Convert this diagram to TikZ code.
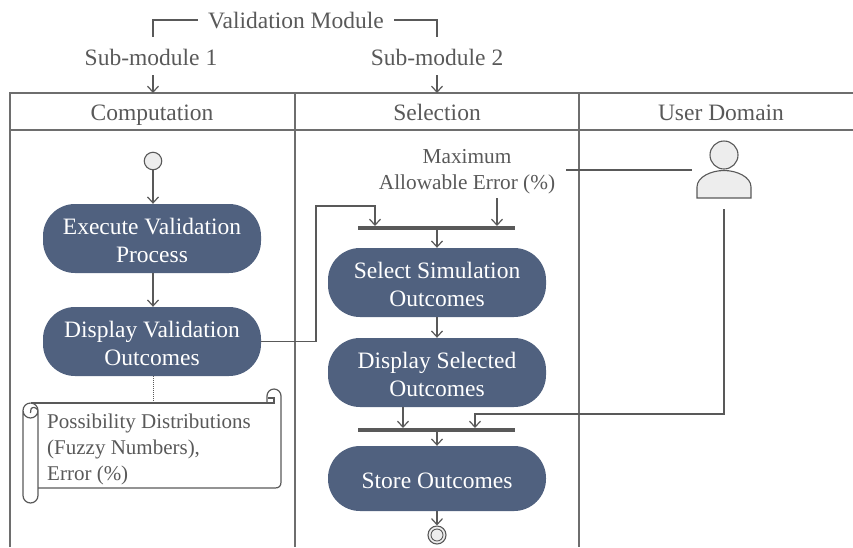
\documentclass[tikz,border=0pt]{standalone}
\usepackage{fontspec}
\setmainfont{Liberation Serif}
\usetikzlibrary{arrows.meta,calc}
\definecolor{ink}{HTML}{595959}
\definecolor{lane}{HTML}{6E6E6E}
\definecolor{act}{HTML}{50617F}
\definecolor{pale}{HTML}{EDEDED}
\tikzset{
  x=1pt,y=-1pt,
  txt/.style={text=ink,font=\fontsize{23.5}{27}\selectfont,inner sep=0pt,anchor=base},
  small/.style={text=ink,font=\fontsize{21}{26}\selectfont,inner sep=0pt,align=left},
  acttext/.style={text=white,font=\fontsize{23.5}{28.5}\selectfont,align=center,inner sep=0pt,yshift=-2pt},
  activity/.style={fill=act,draw=none,rounded corners=32pt,minimum width=218pt,inner sep=0pt},
  forkbar/.style={fill=ink,draw=none,minimum width=157pt,minimum height=4pt,inner sep=0pt},
  flow/.style={draw=ink,line width=1.2pt,-{Straight Barb[length=6pt,width=11pt,line width=1.2pt]}},
  plain/.style={draw=ink,line width=1.2pt},
  lanel/.style={draw=lane,line width=1.4pt},
  pl/.style={draw=ink,line width=1.1pt,fill=pale}
}
\begin{document}
\begin{tikzpicture}
\useasboundingbox (0,0) rectangle (853,547);
% swimlanes
\draw[lanel] (10,547) -- (10,93) -- (853,93);
\draw[lanel] (10,130) -- (853,130);
\draw[lanel] (295,93) -- (295,547);
\draw[lanel] (579,93) -- (579,547);
\node[txt] (hc) at (152,120) {Computation};
\node[txt] (hs) at (437,120) {Selection};
\node[txt] (hu) at (721,120) {User Domain};
% top labels
\node[txt] (vm) at (296,28) {Validation Module};
\node[txt] (s1) at (151,65) {Sub-module 1};
\node[txt] (s2) at (437,65) {Sub-module 2};
\coordinate (lane1) at (153,93);
\coordinate (lane2) at (437,93);
\coordinate (s1top) at (153,36.5);
\coordinate (s2top) at (437,36.5);
\coordinate (s1bot) at (153,75);
\coordinate (s2bot) at (437,75);
\coordinate (vmleft) at (198,20);
\coordinate (vmright) at (394,20);
\draw[plain] (s1top) |- (vmleft);
\draw[plain] (s2top) |- (vmright);
\draw[flow] (s1bot) -- (lane1);
\draw[flow] (s2bot) -- (lane2);
% activities
\node[pl,circle,minimum size=17.5pt,inner sep=0pt] (start) at (153,161) {};
\node[activity,minimum height=69pt,label={[acttext]center:{Execute Validation\\Process}}] (exec) at (152,238.5) {};
\node[activity,minimum height=69pt,label={[acttext]center:{Display Validation\\Outcomes}}] (dv) at (152,341.5) {};
\node[activity,minimum height=69pt,label={[acttext]center:{Select Simulation\\Outcomes}}] (sel) at (437,282.5) {};
\node[activity,minimum height=69pt,label={[acttext]center:{Display Selected\\Outcomes}}] (ds) at (437,372.5) {};
\node[activity,minimum height=65pt,label={[acttext]center:{Store Outcomes}}] (store) at (437,478.5) {};
\node[forkbar] (bar1) at (436.5,228) {};
\node[forkbar] (bar2) at (436.5,430) {};
% final
\node[pl,circle,minimum size=18pt,inner sep=0pt] (final) at (437,535) {};
\fill[pale,draw=ink,line width=0.9pt] (final.center) circle (6pt);
% maximum text
\node[txt,anchor=center,font=\fontsize{21.3}{26}\selectfont,align=center] (maxe) at (467,172) {Maximum\\Allowable Error (\%)};
% person
\node[pl,circle,minimum size=28pt,inner sep=0pt] (head) at (724,155) {};
\filldraw[pl] (697,198) -- (697,187) .. controls (697,177) and (711,170.5) .. (724,170.5)
  .. controls (737,170.5) and (751,177) .. (751,187) -- (751,198) -- cycle;
\coordinate (personleft) at (692,170);
\coordinate (personbot) at (724,209);
\coordinate (maxright) at (566,170);
% scroll
\draw[plain] (267,403) -- (267,396) arc (180:360:7) -- (281,482)
  .. controls (281,486) and (279,488) .. (275,488) -- (38,488);
\draw[plain] (30.5,403) -- (274,403) -- (274,398) -- (268,398);
\draw[plain] (30.5,403) arc (270:180:7.5) -- (23,495.5) arc (180:0:7.5) -- (38,410.5) arc (0:180:7.5);
\draw[plain] (30.5,403) arc (270:360:7.5);
\draw[plain] (38,410.5) .. controls (36.5,407) and (32,406.5) .. (31,409) -- (30.5,413);
\node[small,anchor=north west] (note) at (47,414) {Possibility Distributions\\(Fuzzy Numbers),\\Error (\%)};
\coordinate (notetop) at (153,403);
% connectors
\draw[flow] (start) -- (exec.north -| start);
\draw[flow] (exec.south -| start) -- (dv.north -| start);
\draw[draw=ink,line width=1pt,densely dotted] (dv.south -| notetop) -- (notetop);
\coordinate (b1a) at (375,226);
\coordinate (b1b) at (497,226);
\coordinate (b2a) at (403,428);
\coordinate (b2b) at (475,428);
\coordinate (maxb) at (497,198);
\draw[flow] (dv.east) -- (316,341.5) -- (316,206) -- (375,206) -- (b1a);
\draw[flow] (maxb) -- (b1b);
\draw[flow] (bar1.south -| lane2) -- (sel.north);
\draw[flow] (sel.south) -- (ds.north);
\draw[flow] (ds.south -| b2a) -- (b2a);
\draw[flow] (personbot) -- (724,414) -- (475,414) -- (b2b);
\draw[flow] (bar2.south -| lane2) -- (store.north);
\draw[flow] (store.south) -- (final.north);
\draw[plain] (maxright) -- (personleft);
\end{tikzpicture}
\end{document}
